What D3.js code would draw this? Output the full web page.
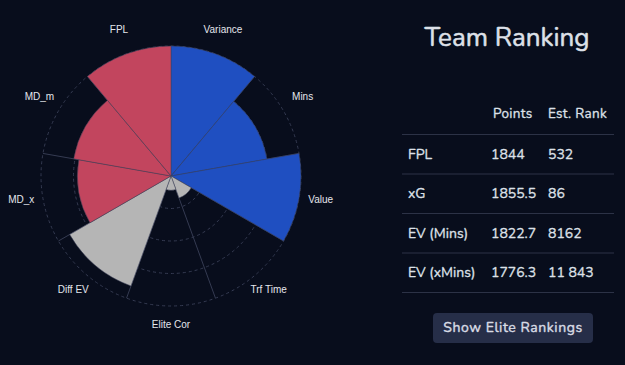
<!DOCTYPE html>
<html>
<head>
<meta charset="utf-8">
<script src="https://cdn.jsdelivr.net/npm/d3@7"></script>
<style>
  html, body { margin: 0; padding: 0; background: #080d1c; }
  svg { display: block; }
</style>
</head>
<body>
<svg id="chart" width="625" height="365"></svg>
<script>
// polar area data, clockwise from 12 o'clock
const categories = ['Variance', 'Mins', 'Value', 'Trf Time', 'Elite Cor', 'Diff EV', 'MD_x', 'MD_m', 'FPL'];
const values = [100, 75, 100, 18, 11, 90, 72, 76, 100];
const groups = ['blue', 'blue', 'blue', 'grey', 'grey', 'grey', 'red', 'red', 'red'];
const gridTicks = [25, 50, 75, 100];

// ranking table
const tableHeaders = ['', 'Points', 'Est. Rank'];
const rankNames = ['FPL', 'xG', 'EV (Mins)', 'EV (xMins)'];
const rankPoints = ['1844', '1855.5', '1822.7', '1776.3'];
const rankEst = ['532', '86', '8162', '11 843'];

const colors = {blue: '#1f4fc1', grey: '#b5b5b5', red: '#c2455e'};

const svg = d3.select('#chart');
const cx = 171, cy = 176;

const r = d3.scaleLinear().domain([0, 100]).range([0, 130]);
const a = d3.scaleBand().domain(categories).range([0, 2 * Math.PI]);

const g = svg.append('g').attr('transform', `translate(${cx},${cy})`);

//grid rings
g.selectAll('circle.grid')
  .data(gridTicks)
  .join('circle')
  .attr('class', 'grid')
  .attr('r', (d) => r(d))
  .attr('fill', 'none')
  .attr('stroke', '#353b52')
  .attr('stroke-width', 1)
  .attr('stroke-dasharray', '3,3');

//spokes
g.selectAll('line.spoke')
  .data(categories)
  .join('line')
  .attr('class', 'spoke')
  .attr('x1', 0).attr('y1', 0)
  .attr('x2', (d) => Math.sin(a(d)) * r(100))
  .attr('y2', (d) => -Math.cos(a(d)) * r(100))
  .attr('stroke', '#353b52')
  .attr('stroke-width', 1);

//sectors
const arc = d3.arc()
  .innerRadius(0)
  .outerRadius((d) => r(d.v))
  .startAngle((d) => a(d.c))
  .endAngle((d) => a(d.c) + a.bandwidth());

g.selectAll('path.sector')
  .data(categories.map((c, i) => ({c: c, v: values[i], grp: groups[i]})))
  .join('path')
  .attr('class', 'sector')
  .attr('d', arc)
  .attr('fill', (d) => colors[d.grp])
  .attr('stroke', '#3c4158')
  .attr('stroke-width', 0.5)
  .attr('stroke-linejoin', 'round');

//point labels
g.selectAll('text.lbl')
  .data(categories)
  .join('text')
  .attr('class', 'lbl')
  .attr('x', (d) => Math.sin(a(d) + a.bandwidth() / 2) * 152)
  .attr('y', (d) => -Math.cos(a(d) + a.bandwidth() / 2) * 152 - 2.5)
  .attr('text-anchor', 'middle')
  .attr('dominant-baseline', 'middle')
  .attr('font-family', 'Liberation Sans, Arial, sans-serif')
  .attr('font-size', 10)
  .attr('fill', '#e4e6ec')
  .text((d) => d);

// right side: table
const font = 'Nunito, Lato, "Noto Sans", sans-serif';
const tbl = svg.append('g')
  .attr('font-family', font)
  .attr('fill', '#dde0e8')
  .attr('stroke', '#dde0e8')
  .attr('stroke-width', 0.3);

tbl.append('text')
  .attr('x', 507).attr('y', 46)
  .attr('text-anchor', 'middle')
  .attr('font-size', 26)
  .attr('stroke-width', 0.5)
  .text('Team Ranking');

const colX = d3.scaleOrdinal().domain([0, 1, 2]).range([408, 491, 548]);
const rowY = d3.scaleBand().domain(d3.range(rankNames.length)).range([134, 292]);

tbl.selectAll('text.hdr')
  .data(tableHeaders)
  .join('text')
  .attr('class', 'hdr')
  .attr('x', (d, i) => colX(i) + (i === 1 ? 2 : 0))
  .attr('y', 118)
  .attr('font-size', 13.5)
  .attr('letter-spacing', 0.3)
  .text((d) => d);

tbl.selectAll('line.row')
  .data(d3.range(rankNames.length + 1))
  .join('line')
  .attr('class', 'row')
  .attr('x1', 402).attr('x2', 614)
  .attr('y1', (i) => 134 + i * rowY.bandwidth() + 0.5)
  .attr('y2', (i) => 134 + i * rowY.bandwidth() + 0.5)
  .attr('stroke', '#2c3246')
  .attr('stroke-width', 1);

const rows = rankNames.map((n, i) => [n, rankPoints[i], rankEst[i]]);
rows.forEach((row, i) => {
  tbl.selectAll(`text.cell${i}`)
    .data(row)
    .join('text')
    .attr('class', `cell${i}`)
    .attr('x', (d, j) => colX(j))
    .attr('y', rowY(i) + rowY.bandwidth() / 2 + 5)
    .attr('font-size', 14)
    .text((d) => d);
});

//button
const btn = svg.append('g');
btn.append('rect')
  .attr('x', 433).attr('y', 313)
  .attr('width', 160).attr('height', 30)
  .attr('rx', 4)
  .attr('fill', '#262e48');
btn.append('text')
  .attr('x', 513).attr('y', 332)
  .attr('text-anchor', 'middle')
  .attr('font-family', font)
  .attr('font-size', 14)
  .attr('letter-spacing', 0.55)
  .attr('fill', '#d8dbe4')
  .attr('stroke', '#d8dbe4')
  .attr('stroke-width', 0.4)
  .text('Show Elite Rankings');
</script>
</body>
</html>
